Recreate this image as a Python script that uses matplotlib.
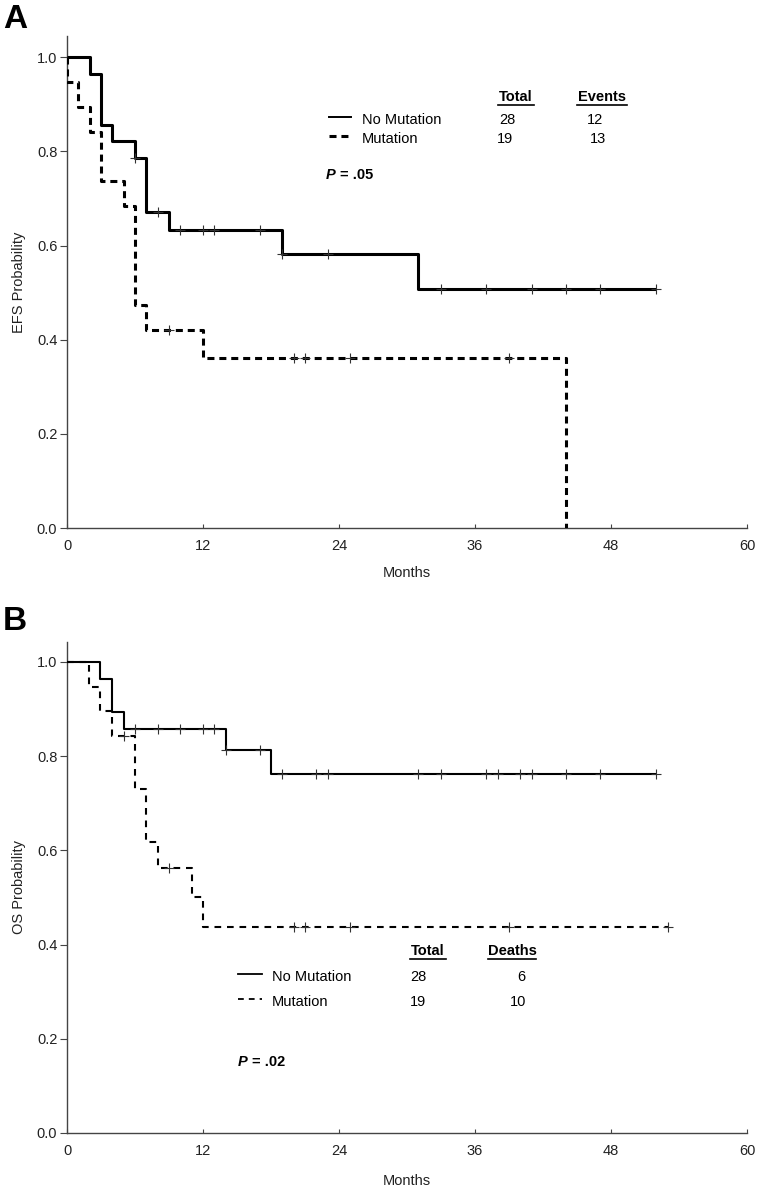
import numpy as np
import matplotlib
matplotlib.use("Agg")
import matplotlib.pyplot as plt
from matplotlib.lines import Line2D

plt.rcParams["font.family"] = ["Liberation Sans", "DejaVu Sans"]

# --- data (months, survival probability) ---
efs_no_mut_t = [0, 2, 3, 4, 6, 7, 9, 19, 31, 52]
efs_no_mut_s = [1.0, 0.964, 0.857, 0.821, 0.786, 0.672, 0.632, 0.581, 0.508, 0.508]
efs_no_mut_cens = [6, 8, 10, 12, 13, 17, 19, 23, 33, 37, 41, 44, 47, 52]

efs_mut_t = [0, 0, 1, 2, 3, 5, 6, 7, 12, 44]
efs_mut_s = [1.0, 0.947, 0.895, 0.842, 0.737, 0.684, 0.474, 0.421, 0.361, 0.0]
efs_mut_cens = [9, 20, 21, 25, 39]

os_no_mut_t = [0, 2.9, 4, 5, 14, 18, 52]
os_no_mut_s = [1.0, 0.964, 0.893, 0.857, 0.812, 0.761, 0.761]
os_no_mut_cens = [6, 8, 10, 12, 13, 14, 17, 19, 22, 23, 31, 33, 37, 38, 40, 41, 44, 47, 52]

os_mut_t = [0, 1.9, 2.9, 4, 6, 7, 8, 11, 12, 53]
os_mut_s = [1.0, 0.947, 0.895, 0.842, 0.730, 0.618, 0.562, 0.500, 0.437, 0.437]
os_mut_cens = [5, 9, 20, 21, 25, 39, 53]

groups = ["No Mutation", "Mutation"]
efs_total = ["28", "19"]
efs_events = ["12", "13"]
os_total = ["28", "19"]
os_deaths = ["6", "10"]

W, H = 760, 1190


def fx(x):
    return x / W


def fy(y):
    return 1 - y / H


def surv_at(t, times, surv):
    i = np.searchsorted(times, t, side="right") - 1
    return np.asarray(surv)[np.clip(i, 0, len(surv) - 1)]


def km(ax, times, surv, cens, lw, dashes=None):
    line, = ax.step(times, surv, where="post", color="black", lw=lw,
                    solid_capstyle="butt", dash_capstyle="butt", zorder=3)
    if dashes:
        line.set_dashes(dashes)
    ax.plot(cens, [surv_at(c, times, surv) for c in cens], "+", color="#333333",
            ms=6.5, mew=0.8, zorder=4, clip_on=False)


def style_axes(ax, ylabel, ytop):
    ax.set_xlim(0, 60)
    ax.set_ylim(0, ytop)
    ax.set_xticks([0, 12, 24, 36, 48, 60])
    ax.set_yticks([0, 0.2, 0.4, 0.6, 0.8, 1.0])
    ax.set_yticklabels(["0.0", "0.2", "0.4", "0.6", "0.8", "1.0"])
    for s in ["top", "right"]:
        ax.spines[s].set_visible(False)
    for s in ["left", "bottom"]:
        ax.spines[s].set_color("#444444")
        ax.spines[s].set_linewidth(1.0)
    ax.tick_params(axis="x", direction="in", length=3, width=0.8, pad=8,
                   colors="#444444", labelcolor="#222222", labelsize=10.5)
    ax.tick_params(axis="y", direction="out", length=5, width=0.8, pad=2,
                   colors="#444444", labelcolor="#222222", labelsize=10.5)
    ax.set_xlabel("Months", fontsize=10.5, color="#222222")
    ax.set_ylabel(ylabel, fontsize=10.5, color="#222222")


def legend_block(fig, header, col_x, rows_y, sample_x, text_x, values, lw, dashes, p_pos, p_text):
    # column headers with underline
    for (label, cx, half) in header:
        fig.text(fx(cx), fy(rows_y[0]), label, ha="center", va="center",
                 fontsize=10.5, fontweight="bold")
        fig.add_artist(Line2D([fx(cx - half), fx(cx + half)],
                              [fy(rows_y[0] + 8), fy(rows_y[0] + 8)],
                              transform=fig.transFigure, color="black", lw=1.2))
    for k, name in enumerate(groups):
        y = rows_y[k + 1]
        ln = Line2D([fx(sample_x[0]), fx(sample_x[1])], [fy(y - 3), fy(y - 3)],
                    transform=fig.transFigure, color="black", lw=lw[k])
        if dashes[k]:
            ln.set_dashes(dashes[k])
        fig.add_artist(ln)
        fig.text(fx(text_x), fy(y), name, ha="left", va="center", fontsize=10.5)
        for j, vals in enumerate(values):
            fig.text(fx(col_x[j][k]), fy(y), vals[k], ha="left", va="center", fontsize=10.5)
    fig.text(fx(p_pos[0]), fy(p_pos[1]), "P", ha="left", va="center",
             fontsize=10.5, fontweight="bold", fontstyle="italic")
    fig.text(fx(p_pos[0] + 14), fy(p_pos[1]), p_text, ha="left", va="center",
             fontsize=10.5, fontweight="bold")


fig = plt.figure(figsize=(W / 100, H / 100), dpi=100)

# Panel A: event-free survival
axA = fig.add_axes([fx(67), 1 - 528 / H, (747 - 67) / W, (528 - 36) / H])
km(axA, efs_no_mut_t, efs_no_mut_s, efs_no_mut_cens, lw=2.2)
km(axA, efs_mut_t, efs_mut_s, efs_mut_cens, lw=2.2, dashes=(2.3, 1.6))
style_axes(axA, "EFS Probability", 1.045)
axA.xaxis.set_label_coords(0.5, -0.077)
axA.yaxis.set_label_coords(-0.06, 0.5)

legend_block(fig, [("Total", 516, 18), ("Events", 602, 25)],
             col_x=[(499, 497), (587, 590)], rows_y=[97, 120, 139],
             sample_x=(329, 351), text_x=362,
             values=[efs_total, efs_events], lw=[1.4, 2.2],
             dashes=[None, (2.3, 1.6)], p_pos=(326, 175), p_text="= .05")

# Panel B: overall survival
axB = fig.add_axes([fx(67), 1 - 1133 / H, (747 - 67) / W, (1133 - 642) / H])
km(axB, os_no_mut_t, os_no_mut_s, os_no_mut_cens, lw=1.5)
km(axB, os_mut_t, os_mut_s, os_mut_cens, lw=1.5, dashes=(3.2, 2.8))
style_axes(axB, "OS Probability", 1.042)
axB.xaxis.set_label_coords(0.5, -0.083)
axB.yaxis.set_label_coords(-0.06, 0.5)

legend_block(fig, [("Total", 428, 18), ("Deaths", 512, 24)],
             col_x=[(410, 410), (517, 510)], rows_y=[951, 977, 1002],
             sample_x=(238, 262), text_x=272,
             values=[os_total, os_deaths], lw=[1.3, 1.3],
             dashes=[None, (3.2, 2.8)], p_pos=(238, 1062), p_text="= .02")

fig.text(fx(3), fy(19), "A", ha="left", va="center", fontsize=24, fontweight="bold")
fig.text(fx(3), fy(622), "B", ha="left", va="center", fontsize=24, fontweight="bold")

fig.savefig("out.png", dpi=100)
